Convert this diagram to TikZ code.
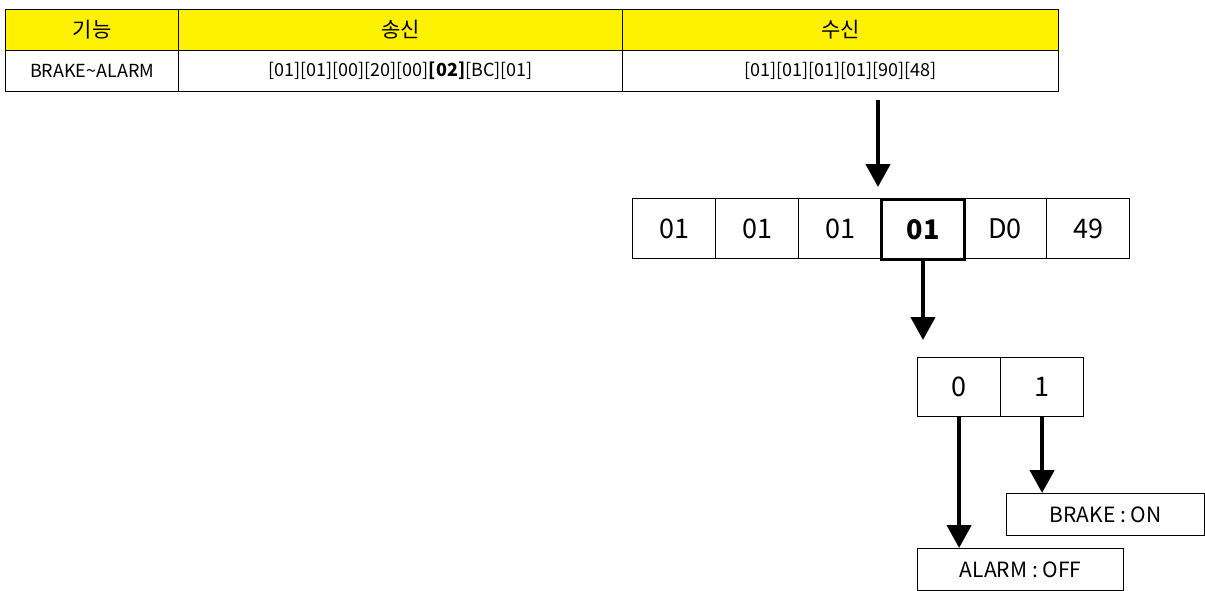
\documentclass[tikz,border=0pt]{standalone}
\usepackage{fontspec}
\setmainfont{Noto Sans CJK KR}
\usetikzlibrary{arrows.meta}

\begin{document}
\begin{tikzpicture}[x=1pt,y=-1pt,
    cell/.style={draw, line width=1.2pt, inner sep=0pt, anchor=north west},
    hdr/.style={cell, fill=yellow, minimum height=41pt, font=\fontsize{21}{21}\selectfont},
    dat/.style={cell, minimum height=41pt, font=\fontsize{18}{18}\selectfont},
    byte/.style={cell, minimum width=83pt, minimum height=60pt, font=\fontsize{27}{27}\selectfont},
    lbl/.style={cell, minimum height=42pt, font=\fontsize{21}{21}\selectfont},
    bigarrow/.style={line width=4.5pt, -{Triangle[width=24pt,length=23pt]}}]
    \useasboundingbox (0,0) rectangle (1205,590);
    % table
    \node[hdr, minimum width=173pt] (h1) at (5,9) {기능};
    \node[hdr, minimum width=444pt] (h2) at (178,9) {송신};
    \node[hdr, minimum width=436pt] (h3) at (622,9) {수신};
    \node[dat, minimum width=173pt] (d1) at (5,50) {BRAKE\textasciitilde ALARM};
    \node[dat, minimum width=444pt] (d2) at (178,50) {[01][01][00][20][00]\textbf{[02]}[BC][01]};
    \node[dat, minimum width=436pt] (d3) at (622,50) {[01][01][01][01][90][48]};
    % bytes of the answer
    \node[byte] (b1) at (632,198) {01};
    \node[byte] (b2) at (715,198) {01};
    \node[byte] (b3) at (798,198) {01};
    \node[byte, line width=3pt, font=\fontsize{27}{27}\selectfont\bfseries] (b4) at (880,198) {01};
    \node[byte] (b5) at (963,198) {D0};
    \node[byte] (b6) at (1046,198) {49};
    % bits
    \node[byte, minimum height=59pt] (bit0) at (917,357) {0};
    \node[byte, minimum height=59pt] (bit1) at (1000,357) {1};
    % states
    \node[lbl, minimum width=198pt] (brake) at (1006,493) {BRAKE\ :\ ON};
    \node[lbl, minimum width=206pt] (alarm) at (917,548) {ALARM\ :\ OFF};
    % arrows
    \coordinate (top) at (878,100);
    \draw[bigarrow, shorten >=11pt] (top) -- (top |- b4.north);
    \draw[bigarrow, shorten >=17pt] (b4.south) -- (b4.south |- bit0.north);
    \draw[bigarrow] (bit0.south) -- (alarm.north -| bit0.south);
    \draw[bigarrow] (bit1.south) -- (brake.north -| bit1.south);
\end{tikzpicture}
\end{document}
